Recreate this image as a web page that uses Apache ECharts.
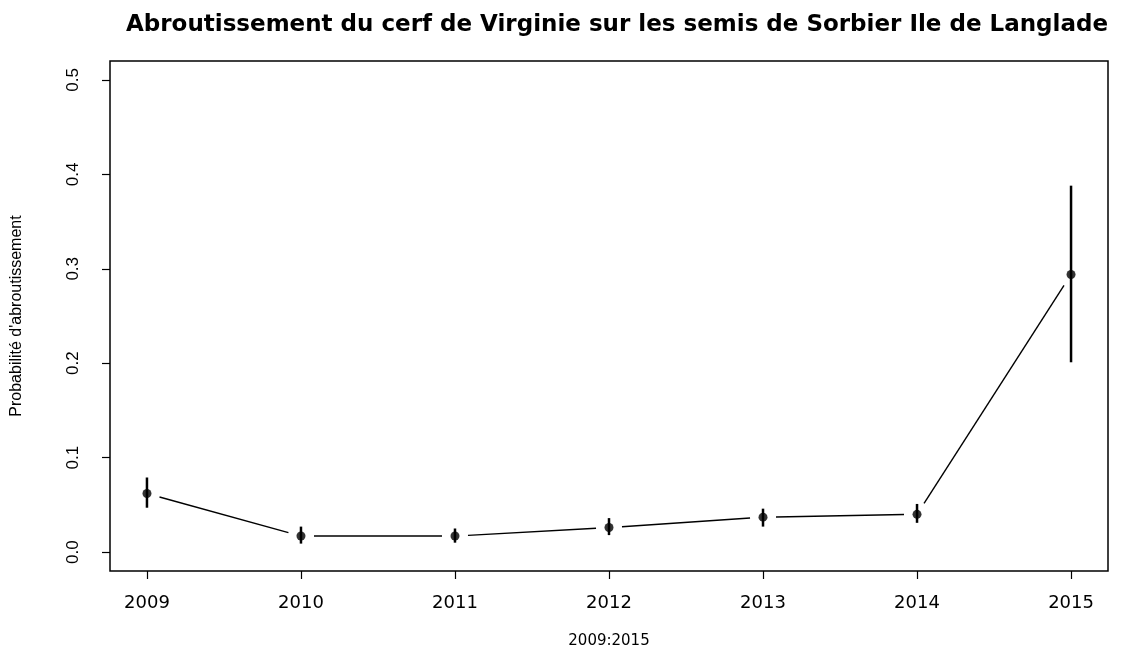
<!DOCTYPE html>
<html>
<head>
<meta charset="utf-8">
<script src="https://cdn.jsdelivr.net/npm/echarts@6/dist/echarts.min.js"></script>
<style>
  html, body { margin: 0; padding: 0; background: #fff; }
  #chart-container { width: 1123px; height: 648px; }
</style>
</head>
<body>
<div id="chart-container"></div>
<script>
const years = [2009, 2010, 2011, 2012, 2013, 2014, 2015];
const prob = [0.062, 0.017, 0.017, 0.026, 0.037, 0.040, 0.294];
const lower = [0.047, 0.009, 0.010, 0.018, 0.027, 0.031, 0.201];
const upper = [0.079, 0.027, 0.025, 0.036, 0.046, 0.051, 0.388];
const yTicks = [0, 0.1, 0.2, 0.3, 0.4, 0.5];

document.addEventListener('DOMContentLoaded', function () {

    const chartContainer = document.getElementById('chart-container');

    const points = years.map((y, i) => [y, prob[i]]);
    const bars = years.map((y, i) => [y, lower[i], upper[i]]);
    const segments = [];
    for (let i = 0; i < years.length - 1; i++) {
        segments.push([years[i], prob[i], years[i + 1], prob[i + 1]]);
    }

    const gap = 13;

    const option = {
        animation: false,
        backgroundColor: '#fff',
        title: {
            text: 'Abroutissement du cerf de Virginie sur les semis de Sorbier Ile de Langlade',
            left: 612,
            top: 9,
            textAlign: 'center',
            textStyle: {
                fontFamily: 'DejaVu Sans',
                fontWeight: 'bold',
                fontSize: 23,
                color: '#000'
            }
        },
        grid: {
            left: 110,
            right: 15,
            top: 61,
            bottom: 77,
            outerBoundsMode: 'none',
            show: true,
            borderColor: '#000',
            borderWidth: 1.5
        },
        xAxis: {
            type: 'value',
            min: 2008.76,
            max: 2015.24,
            name: '2009:2015',
            nameLocation: 'middle',
            nameGap: 63,
            nameTextStyle: { fontFamily: 'DejaVu Sans', fontSize: 15, color: '#000' },
            splitLine: { show: false },
            axisLine: { show: false, onZero: false },
            axisTick: {
                show: true,
                length: 8,
                customValues: years,
                lineStyle: { color: '#000', width: 1.2 }
            },
            axisLabel: {
                customValues: years,
                margin: 23,
                fontFamily: 'DejaVu Sans',
                fontSize: 18,
                color: '#000',
                formatter: v => String(v)
            }
        },
        yAxis: {
            type: 'value',
            min: -0.02,
            max: 0.52,
            name: "Probabilité d'abroutissement",
            nameLocation: 'middle',
            nameGap: 85,
            nameRotate: 90,
            nameTextStyle: { fontFamily: 'Liberation Sans Narrow, Liberation Sans', fontSize: 16, color: '#000' },
            splitLine: { show: false },
            axisLine: { show: false, onZero: false },
            axisTick: {
                show: true,
                length: 8,
                customValues: yTicks,
                lineStyle: { color: '#000', width: 1.2 }
            },
            axisLabel: {
                customValues: yTicks,
                rotate: 90,
                margin: 28,
                fontFamily: 'Liberation Sans',
                fontSize: 17,
                color: '#000',
                formatter: v => v.toFixed(1)
            }
        },
        series: [
            {
                type: 'custom',
                data: segments,
                renderItem: function (params, api) {
                    const a = api.coord([api.value(0), api.value(1)]);
                    const b = api.coord([api.value(2), api.value(3)]);
                    const dx = b[0] - a[0], dy = b[1] - a[1];
                    const len = Math.sqrt(dx * dx + dy * dy);
                    const ux = dx / len, uy = dy / len;
                    return {
                        type: 'line',
                        shape: {
                            x1: a[0] + ux * gap, y1: a[1] + uy * gap,
                            x2: b[0] - ux * gap, y2: b[1] - uy * gap
                        },
                        style: { stroke: '#000', lineWidth: 1.4 }
                    };
                }
            },
            {
                type: 'custom',
                data: bars,
                renderItem: function (params, api) {
                    const lo = api.coord([api.value(0), api.value(1)]);
                    const hi = api.coord([api.value(0), api.value(2)]);
                    return {
                        type: 'line',
                        shape: { x1: lo[0], y1: lo[1], x2: hi[0], y2: hi[1] },
                        style: { stroke: '#000', lineWidth: 2.5 }
                    };
                }
            },
            {
                type: 'scatter',
                data: points,
                symbol: 'circle',
                symbolSize: 9,
                itemStyle: { color: '#000' }
            }
        ]
    };

    const chart = echarts.init(chartContainer);
    chart.setOption(option);

})
</script>
</body>
</html>
